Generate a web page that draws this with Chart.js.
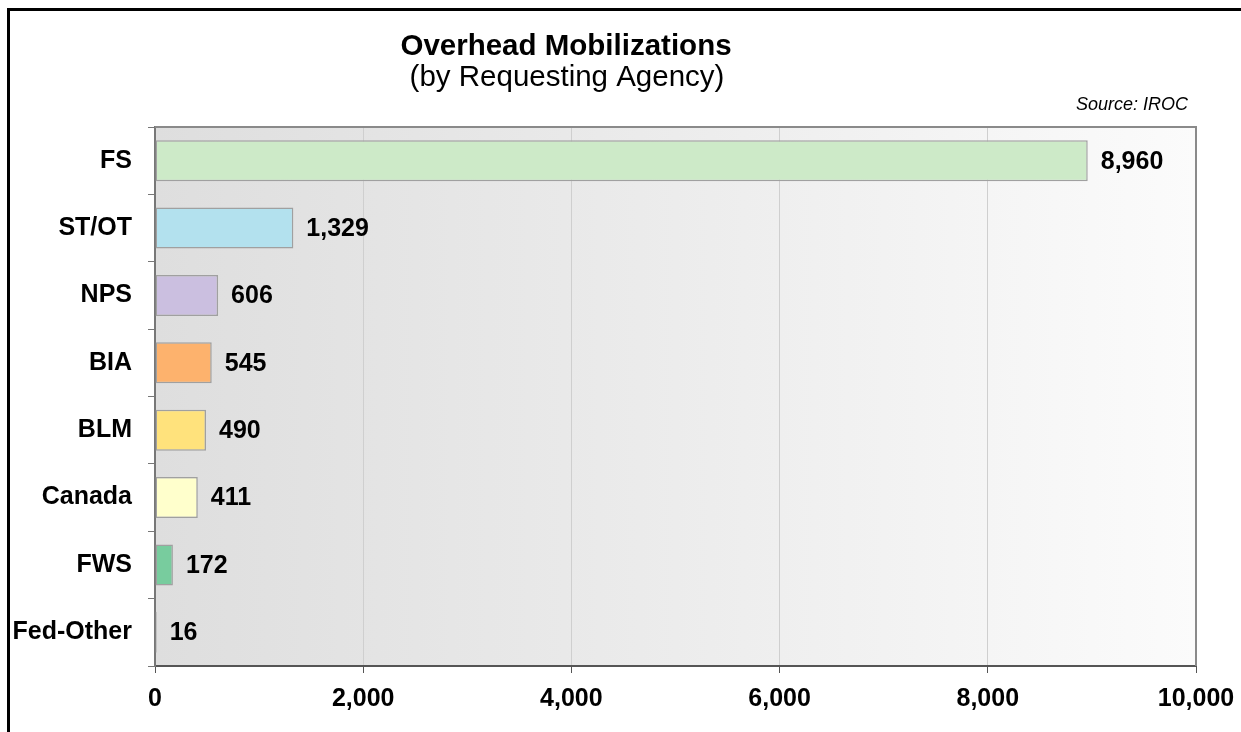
<!DOCTYPE html>
<html>
<head>
<meta charset="utf-8">
<script src="https://cdn.jsdelivr.net/npm/chart.js@4.4.0/dist/chart.umd.min.js"></script>
<style>
  html, body { margin: 0; padding: 0; background: #fff; }
  #wrap { width: 1241px; height: 732px; position: relative; }
</style>
</head>
<body>
<div id="wrap"><canvas id="chart" width="1241" height="732"></canvas></div>
<script>
const agencies = ['FS', 'ST/OT', 'NPS', 'BIA', 'BLM', 'Canada', 'FWS', 'Fed-Other'];
const mobilizations = [8960, 1329, 606, 545, 490, 411, 172, 16];
const barColors = ['#cdeac8', '#b3e1ee', '#cbbfe0', '#fdb26d', '#ffe27c', '#ffffcc', '#78cc9e', '#d8d8d8'];
const xTicks = [0, 2000, 4000, 6000, 8000, 10000];

const titleText = 'Overhead Mobilizations';
const subtitleText = '(by Requesting Agency)';
const sourceText = 'Source: IROC';

const FONT = '"Liberation Sans", Arial, sans-serif';

// background gradient inside plot area + outer frame
const backdrop = {
  id: 'backdrop',
  beforeDraw(chart) {
    const { ctx, chartArea: a } = chart;
    ctx.save();
    const g = ctx.createLinearGradient(a.left, 0, a.right, 0);
    g.addColorStop(0, '#dedede');
    g.addColorStop(0.5, '#ececec');
    g.addColorStop(1, '#fbfbfb');
    ctx.fillStyle = g;
    ctx.fillRect(a.left, a.top, a.right - a.left, a.bottom - a.top);
    ctx.restore();
  },
  afterDraw(chart) {
    const { ctx, chartArea: a } = chart;
    ctx.save();
    // plot border top/right
    ctx.strokeStyle = '#8a8a8a';
    ctx.lineWidth = 2;
    ctx.beginPath();
    ctx.moveTo(a.left, a.top);
    ctx.lineTo(a.right, a.top);
    ctx.lineTo(a.right, a.bottom);
    ctx.stroke();
    // outer frame
    ctx.strokeStyle = '#000';
    ctx.lineWidth = 3;
    ctx.strokeRect(8.5, 9.5, 1400, 900);
    // titles
    ctx.fillStyle = '#000';
    ctx.textAlign = 'center';
    ctx.textBaseline = 'alphabetic';
    ctx.font = 'bold 29.5px ' + FONT;
    ctx.fillText(titleText, 566, 55);
    ctx.font = '29.5px ' + FONT;
    ctx.fillText(subtitleText, 567, 86);
    ctx.font = 'italic 18px ' + FONT;
    ctx.textAlign = 'right';
    ctx.fillText(sourceText, 1188, 110);
    ctx.restore();
  }
};

// value labels at the end of each bar
const valueLabels = {
  id: 'valueLabels',
  afterDatasetsDraw(chart) {
    const { ctx } = chart;
    const meta = chart.getDatasetMeta(0);
    ctx.save();
    ctx.fillStyle = '#000';
    ctx.font = 'bold 25px ' + FONT;
    ctx.textAlign = 'left';
    ctx.textBaseline = 'middle';
    meta.data.forEach((bar, i) => {
      ctx.fillText(mobilizations[i].toLocaleString('en-US'), bar.x + 13, bar.y + 1);
    });
    ctx.restore();
  }
};

new Chart(document.getElementById('chart'), {
  type: 'bar',
  data: {
    labels: agencies,
    datasets: [{
      data: mobilizations,
      backgroundColor: barColors,
      borderColor: '#a0a0a0',
      borderWidth: 1.5,
      borderSkipped: false,
      categoryPercentage: 1,
      barPercentage: 0.61
    }]
  },
  options: {
    indexAxis: 'y',
    responsive: false,
    animation: false,
    layout: { padding: { top: 127, right: 45, bottom: 0, left: 0 } },
    plugins: {
      legend: { display: false },
      tooltip: { enabled: false }
    },
    scales: {
      x: {
        min: 0,
        max: 10000,
        afterBuildTicks(axis) { axis.ticks = xTicks.map(v => ({ value: v })); },
        afterFit(axis) { axis.height = 66; axis.paddingRight = 0; axis.paddingLeft = 0; },
        border: { color: '#555', width: 2 },
        grid: { color: '#cfcfcf', lineWidth: 1, tickLength: 7, tickColor: '#555' },
        ticks: {
          color: '#000',
          padding: 11,
          font: { family: FONT, size: 25, weight: 'bold' },
          callback: v => v.toLocaleString('en-US')
        }
      },
      y: {
        afterFit(axis) { axis.width = 155; },
        border: { color: '#777', width: 2 },
        grid: { drawOnChartArea: false, tickLength: 7, tickColor: '#777', offset: true },
        ticks: {
          color: '#000',
          padding: 16,
          font: { family: FONT, size: 25, weight: 'bold' }
        }
      }
    }
  },
  plugins: [backdrop, valueLabels]
});
</script>
</body>
</html>
